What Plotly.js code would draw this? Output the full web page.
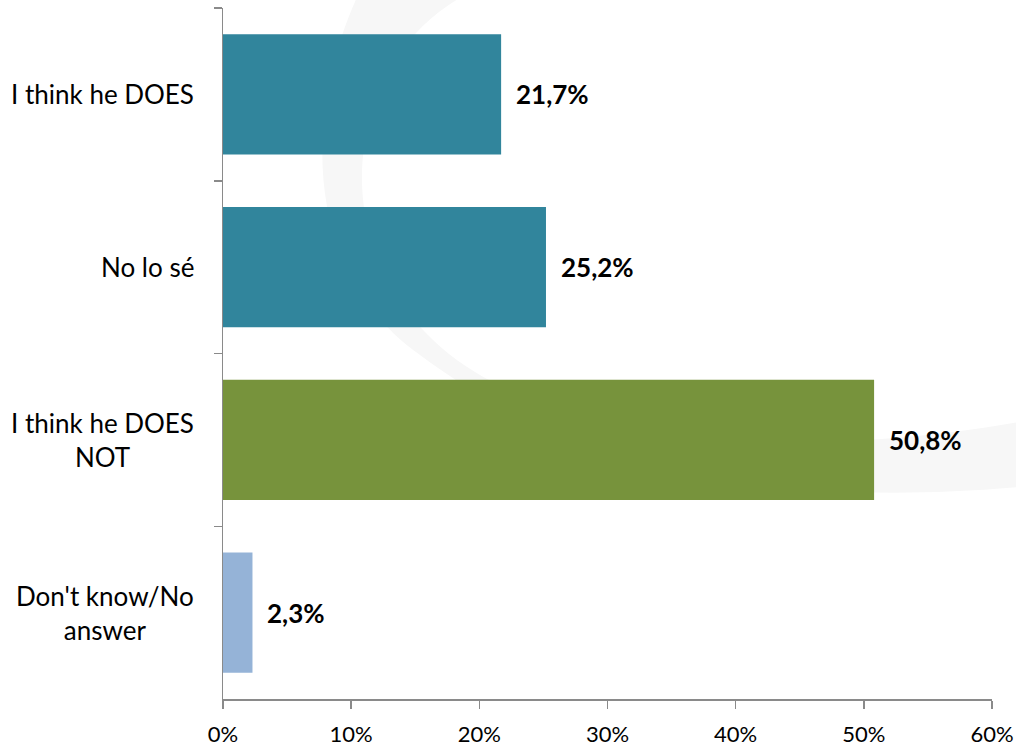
<!DOCTYPE html>
<html>
<head>
<meta charset="utf-8">
<script src="https://cdn.plot.ly/plotly-3.0.1.min.js"></script>
<style>html,body{margin:0;padding:0;background:#fff;}#chart{width:1016px;height:748px;}</style>
</head>
<body>
<div id="chart"></div>
<script>
const categories = ["I think he DOES", "No lo sé", "I think he DOES<br>NOT", "Don't know/No<br>answer"];
const values = [21.7, 25.2, 50.8, 2.3];
const valueLabels = ["21,7%", "25,2%", "50,8%", "2,3%"];
const barColors = ["#31859C", "#31859C", "#77933C", "#95B3D7"];
const xTickVals = [0, 10, 20, 30, 40, 50, 60];
const xTickText = ["0%", "10%", "20%", "30%", "40%", "50%", "60%"];

const W = 1016, H = 748;
const M = {l: 223, r: 24, t: 8, b: 49};
const pw = W - M.l - M.r, ph = H - M.t - M.b;
function px(x) { return ((x - M.l) / pw).toFixed(4); }
function py(y) { return ((H - M.b - y) / ph).toFixed(4); }
function pt(x, y) { return px(x) + "," + py(y); }

const wm = "M" + pt(358, -5) +
  " C" + pt(305, 110) + " " + pt(300, 270) + " " + pt(420, 355) +
  " C" + pt(540, 445) + " " + pt(720, 515) + " " + pt(1030, 486) +
  " L" + pt(1030, 420) +
  " C" + pt(760, 470) + " " + pt(560, 425) + " " + pt(475, 372) +
  " C" + pt(390, 320) + " " + pt(350, 230) + " " + pt(365, 140) +
  " C" + pt(378, 75) + " " + pt(410, 25) + " " + pt(465, -5) + " Z";

const font = "Lato, 'Open Sans', sans-serif";

const annotations = [];
categories.forEach((c, i) => {
  annotations.push({
    x: 0, xref: "paper", y: c, yref: "y", text: c, showarrow: false,
    xanchor: "right", yanchor: "middle", align: "center", xshift: -27,
    font: {family: font, size: 26, color: "#000"}
  });
  annotations.push({
    x: values[i], xref: "x", y: c, yref: "y", text: "<b>" + valueLabels[i] + "</b>",
    showarrow: false, xanchor: "left", yanchor: "middle", xshift: 13,
    font: {family: font, size: 26, color: "#000"}
  });
});

const trace = {
  type: "bar", orientation: "h",
  x: values, y: categories,
  marker: {color: barColors, line: {width: 0}},
  hoverinfo: "none"
};

const layout = {
  width: W, height: H,
  margin: M,
  paper_bgcolor: "#fff", plot_bgcolor: "rgba(0,0,0,0)",
  showlegend: false,
  bargap: 0.305,
  font: {family: font, size: 20, color: "#000"},
  xaxis: {
    range: [0, 60], tickvals: xTickVals, ticktext: xTickText,
    showgrid: false, zeroline: false,
    showline: true, linecolor: "#8a8a8a", linewidth: 1.5,
    ticks: "outside", ticklen: 8, tickcolor: "#8a8a8a", tickwidth: 1.5,
    ticklabelstandoff: 7,
    tickfont: {family: font, size: 22, color: "#000"},
    fixedrange: true
  },
  yaxis: {
    type: "category", categoryorder: "array", categoryarray: categories,
    range: [3.5, -0.5],
    showticklabels: false, tickson: "boundaries",
    showgrid: false, zeroline: false,
    showline: true, linecolor: "#8a8a8a", linewidth: 1.5,
    ticks: "outside", ticklen: 8, tickcolor: "#8a8a8a", tickwidth: 1.5,
    fixedrange: true
  },
  shapes: [{
    type: "path", xref: "paper", yref: "paper", path: wm,
    fillcolor: "#f7f7f7", line: {width: 0}, layer: "below"
  }],
  annotations: annotations
};

Plotly.newPlot("chart", [trace], layout, {displayModeBar: false, staticPlot: true});
</script>
</body>
</html>
